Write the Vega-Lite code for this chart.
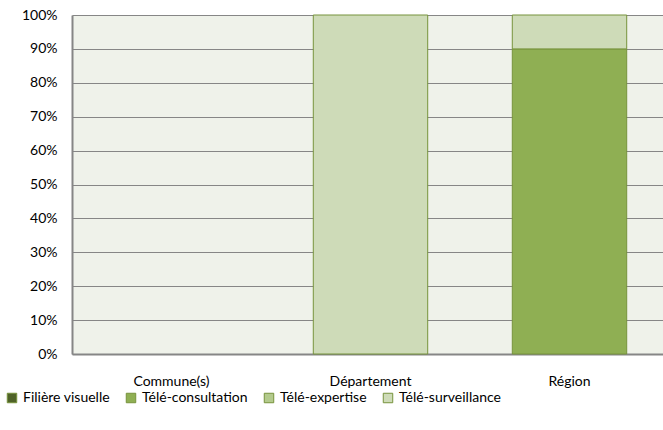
{
  "$schema": "https://vega.github.io/schema/vega-lite/v6.json",
  "autosize": "none",
  "width": 597,
  "height": 339,
  "padding": {"left": 72, "top": 15, "right": 0, "bottom": 76},
  "background": "white",
  "config": {
    "font": "Lato",
    "view": {"fill": "#EFF2EA", "stroke": null},
    "axis": {"labelFont": "Lato", "labelFontSize": 14, "labelColor": "#000000"}
  },
  "data": {
    "values": [
      {"territoire": "Département", "type": "Télé-surveillance", "part": 1.0},
      {"territoire": "Région", "type": "Télé-consultation", "part": 0.9},
      {"territoire": "Région", "type": "Télé-surveillance", "part": 0.1}
    ]
  },
  "mark": {"type": "bar", "stroke": "#77933C", "strokeWidth": 1},
  "encoding": {
    "x": {
      "field": "territoire",
      "type": "nominal",
      "scale": {"domain": ["Commune(s)", "Département", "Région"], "paddingInner": 0.425, "paddingOuter": 0.2125},
      "axis": {"title": null, "labelAngle": 0, "ticks": false, "domainColor": "#868686", "domainWidth": 2, "labelPadding": 20, "grid": false}
    },
    "y": {
      "field": "part",
      "type": "quantitative",
      "stack": "zero",
      "scale": {"domain": [0, 1], "nice": false},
      "axis": {"title": null, "format": ".0%", "values": [0,0.1,0.2,0.3,0.4,0.5,0.6,0.7,0.8,0.9,1], "labelOverlap": false, "ticks": false, "labelPadding": 15, "domainColor": "#868686", "domainWidth": 2, "gridColor": "#868686", "gridWidth": 1}
    },
    "color": {
      "field": "type",
      "type": "nominal",
      "scale": {
        "domain": ["Filière visuelle", "Télé-consultation", "Télé-expertise", "Télé-surveillance"],
        "range": ["#4F6228", "#8FAF53", "#B3CA8C", "#CEDBB8"]
      },
      "legend": {
        "title": null,
        "orient": "none",
        "legendX": -67,
        "legendY": 376,
        "direction": "horizontal",
        "symbolType": "square",
        "symbolSize": 90,
        "symbolStrokeColor": "#77933C",
        "symbolStrokeWidth": 1,
        "labelFont": "Lato",
        "labelFontSize": 14,
        "labelColor": "#000000",
        "labelOffset": 4,
        "columnPadding": 14
      }
    },
    "order": {"field": "type", "sort": "ascending"}
  }
}
